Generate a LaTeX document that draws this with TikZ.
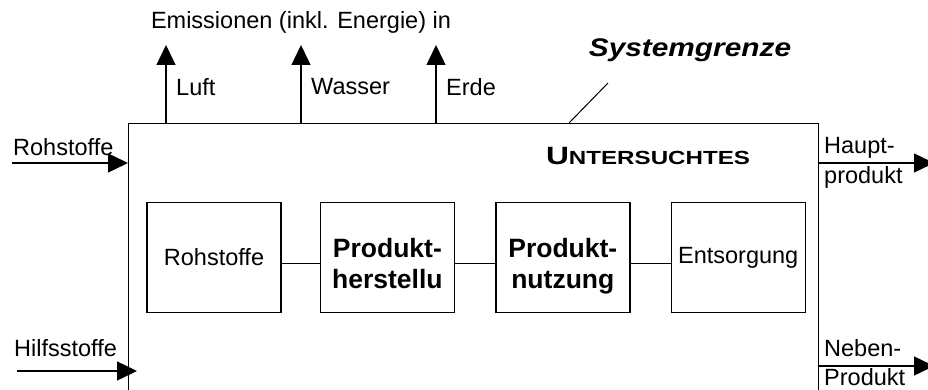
\documentclass[tikz,border=0pt]{standalone}
\usepackage{fontspec}
\setmainfont{Liberation Sans}
\usetikzlibrary{arrows.meta, positioning}

\begin{document}
\begin{tikzpicture}[x=1pt, y=-1pt, >={Triangle[length=20pt, width=19pt]},
    every node/.style={font=\fontsize{23.5}{27}\selectfont, inner sep=0pt},
    stage/.style={draw, line width=1.4pt, minimum width=134pt, minimum height=110pt, align=center},
    boldstage/.style={stage, font=\fontsize{26.5}{31}\selectfont\bfseries, text height=61pt, text depth=0pt},
    flow/.style={->, line width=1.4pt}]

    % Frame of the picture
    \useasboundingbox (0,0) rectangle (928,390);
    \clip (0,0) rectangle (928,390);

    % System boundary (lower edge lies below the picture)
    \node[draw, line width=1.4pt, anchor=north west, minimum width=690pt, minimum height=320pt] (sys) at (128,123) {};

    % Life cycle stages
    \node[stage] (rohst) at (214,257.5) {Rohstoffe};
    \node[boldstage, right=38pt of rohst] (herst) {Produkt-\\herstellu};
    \node[boldstage, right=40pt of herst] (nutz) {Produkt-\\nutzung};
    \node[stage, right=40pt of nutz] (entsorg) {Entsorgung};

    \draw[line width=1pt] ([yshift=-5.5pt]rohst.east) -- ([yshift=-5.5pt]herst.west);
    \draw[line width=1pt] ([yshift=-5.5pt]herst.east) -- ([yshift=-5.5pt]nutz.west);
    \draw[line width=1pt] ([yshift=-5.5pt]nutz.east) -- ([yshift=-5.5pt]entsorg.west);

    % Title and boundary label
    \node[font=\bfseries\addfontfeature{FakeStretch=1.27}] (titel) at (648,156)
        {{\fontsize{25}{29}\selectfont U}{\fontsize{19}{22}\selectfont NTERSUCHTES}};
    \node[font=\fontsize{25.5}{29}\selectfont\bfseries\itshape\addfontfeature{FakeStretch=1.17}] (grenze) at (690,50) {Systemgrenze};
    \coordinate (g1) at (608,83);
    \coordinate (g2) at (569,123);
    \draw[line width=1pt] (g1) -- (g2);

    % Emissions
    \node (emis) at (301,22) {Emissionen (inkl. Energie) in};
    \foreach \x/\name/\txt in {166/luft/Luft, 301/wasser/Wasser, 436/erde/Erde} {
        \coordinate (\name-in) at (\x,123);
        \coordinate (\name-out) at (\x,45);
        \draw[flow] (\name-in) -- (\name-out);
        \node[anchor=west] (\name) at (\x+10,87) {\txt};
    }

    % Inputs
    \coordinate (roh-in) at (12,163);
    \draw[flow] (roh-in) -- (roh-in -| sys.west);
    \node[anchor=west] (roh) at (13,147) {Rohstoffe};
    \coordinate (hilf-in) at (17,371);
    \coordinate (hilf-end) at (137,371);
    \draw[flow] (hilf-in) -- (hilf-end);
    \node[anchor=west] (hilf) at (14,348) {Hilfsstoffe};

    % Outputs
    \coordinate (haupt-out) at (934,163);
    \draw[flow] (haupt-out -| sys.east) -- (haupt-out);
    \node[anchor=west] (haupt1) at (824,148) {Haupt-};
    \node[anchor=west] (haupt2) at (824,177) {produkt};
    \coordinate (neben-out) at (934,366);
    \draw[flow] (neben-out -| sys.east) -- (neben-out);
    \node[anchor=west] (neben1) at (824,348) {Neben-};
    \node[anchor=west] (neben2) at (824,377) {Produkt};

\end{tikzpicture}
\end{document}
